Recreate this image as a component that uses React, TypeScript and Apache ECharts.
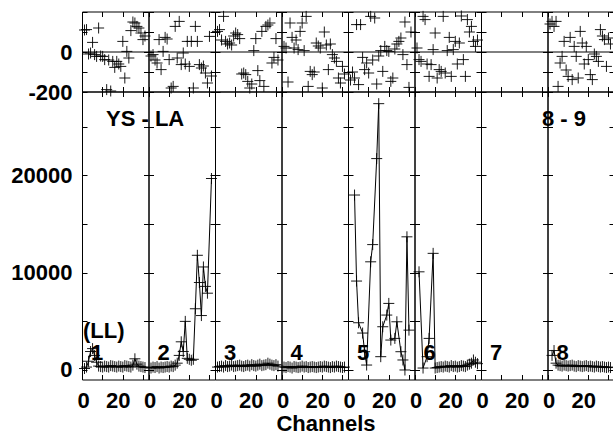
import React, { useEffect, useRef } from "react";
import * as echarts from "echarts";

// ---------- data ----------
const CHANNELS = [1, 2, 3, 4, 5, 6, 7, 8, 9, 10, 11, 12, 13, 14, 15, 16, 17, 18, 19, 20, 21, 22, 23, 24, 25, 26, 27, 28, 29, 30, 31];
const PANEL_NAMES = ["1", "2", "3", "4", "5", "6", "7", "8"];
const BASELINE_TOP = "YS - LA";
const BASELINE_RIGHT = "8 - 9";
const POL_LABEL = "(LL)";
const X_TITLE = "Channels";
const X_LABELS = [0, 20];
const PHASE_LABELS = [0, -200];
const AMP_TICKS = [0, 5000, 10000, 15000, 20000, 25000];
const AMP_LABELS = [0, 10000, 20000];

const phase1 = [110, 112, -10, -5, 48, -13, -22, 120, -20, -22, -38, -188, -40, -195, -47, -77, -47, -60, -72, 53, -130, 3, -30, 107, 150, 145, 128, 120, 95, 62, 80];
const phase2 = [-20, -13, -40, -55, 62, -88, 3, 73, 65, -38, -180, -172, 128, -30, 153, -63, -5, -60, 53, -72, 53, -180, 128, 53, -63, -80, -70, -105, -155, 78, -120];
const phase3 = [103, 112, 60, 178, 53, 40, 45, 35, 80, 95, 87, 67, -110, -105, -113, -147, -180, -160, 7, 67, -93, -143, 103, -172, 128, 135, 145, -55, -27, 67, -40];
const phase4 = [28, 20, -150, 145, 73, 20, 60, 12, 103, 145, 7, 178, -172, -97, -113, -100, 45, 30, 20, -180, 100, 35, -88, 40, -13, -30, -47, -130, -155, -72, -110];
const phase5 = [-140, -100, -130, 137, -163, 137, -27, -88, -55, -105, 178, -40, 170, -160, -20, 7, -97, 28, 7, 3, -147, -130, 15, 40, 53, 70, -13, 150, -63, -177, 100];
const phase6 = [20, -38, -47, 178, 162, -60, -122, -63, 12, 95, -130, -88, -97, 178, -105, 7, 73, -122, 12, 53, -60, 45, 180, -38, -122, 162, 100, 128, 53, 28, 60];
const phase7: (number | null)[] = [];
const phase8 = [140, 153, 128, 153, -172, -55, -22, 53, -90, -122, 73, -138, 28, -22, -130, 103, 45, -60, 28, -38, -113, -138, -10, -22, -47, 112, 80, 62, -72, 70, 40];

const amp1 = [150, 300, 900, 1900, 2200, 1500, 800, 400, 350, 300, 400, 350, 300, 450, 400, 350, 300, 400, 350, 300, 450, 400, 350, 300, 500, 1150, 600, 400, 350, 300, 250];
const amp2 = [200, 300, 250, 350, 200, 300, 250, 300, 350, 300, 400, 350, 500, 700, 1500, 2900, 1900, 5000, 1200, 1100, 1000, 1100, 6300, 11800, 9000, 5600, 10600, 8600, 7900, null, 19700];
const amp3 = [300, 350, 400, 300, 450, 350, 400, 500, 350, 400, 450, 500, 400, 350, 450, 500, 400, 550, 450, 400, 500, 600, 450, 500, 550, 700, 600, 500, 450, 550, 400];
const amp4 = [300, 250, 350, 300, 200, 350, 300, 250, 300, 400, 300, 350, 250, 300, 350, 300, 250, 300, 350, 300, 400, 350, 300, 250, 350, 300, 400, 350, 300, 250, 300];
const amp5 = [null, null, 18000, 9150, 4860, null, 3800, 1880, 510, null, 11130, 12900, null, 21750, 27400, 1370, 4450, null, 5650, 6850, 3080, null, 3250, 4960, null, 1880, 1030, 0, 13700, 4100, null];
const amp6 = [null, 10100, null, 200, null, 1370, 3250, null, 12000, 200, 250, 300, 350, 300, 400, 350, 300, 450, 350, 400, 300, 350, 450, 400, 350, 500, 600, 700, 1030, 800, 650];
const amp7: (number | null)[] = [];
const amp8 = [null, 1500, 2000, 700, 500, 450, 400, 500, 450, 400, 450, 500, 400, 350, 450, 400, 350, 400, 450, 350, 400, 350, 300, 400, 350, 300, 350, 300, 250, 300, 250];

const PHASES = [phase1, phase2, phase3, phase4, phase5, phase6, phase7, phase8];
const AMPS = [amp1, amp2, amp3, amp4, amp5, amp6, amp7, amp8];

// ---------- layout / style ----------
const X_MIN = 0;
const X_MAX = 33;
const PH_MIN = -200;
const PH_MAX = 200;
const AMP_MIN = -1030;
const AMP_MAX = 28600;
const PANEL_LEFT = 82.5;
const PANEL_W = 66.5;
const TOP_Y = 12;
const TOP_H = 80;
const BOT_Y = 92;
const BOT_H = 288;
const FONT = "Liberation Sans, Arial, Helvetica, sans-serif";
const FS = 22;
const LH = 17;
const CROSS = "path://M0,5L10,5M5,0L5,10";

function pairs(arr: (number | null)[]) {
  const out: number[][] = [];
  arr.forEach((v, i) => {
    if (v !== null && v !== undefined) out.push([CHANNELS[i], v]);
  });
  return out;
}

function buildOption() {
  const grid: any[] = [];
  const xAxis: any[] = [];
  const yAxis: any[] = [];
  const series: any[] = [];
  const tick = { show: true, inside: true, length: 5, lineStyle: { color: "#000", width: 1 } };
  const noLine = { show: false, onZero: false };
  const labelFont = { fontFamily: FONT, fontSize: FS, fontWeight: "bold", color: "#000", lineHeight: LH };

  for (let k = 0; k < 8; k++) {
    const left = PANEL_LEFT + k * PANEL_W;
    for (let part = 0; part < 2; part++) {
      const g = 2 * k + part;
      const isTop = part === 0;
      grid.push({
        left,
        top: isTop ? TOP_Y : BOT_Y,
        width: PANEL_W,
        height: isTop ? TOP_H : BOT_H,
        show: true,
        borderColor: "#000",
        borderWidth: 1,
        backgroundColor: "transparent",
        containLabel: false,
      });
      xAxis.push({
        gridIndex: g,
        type: "value",
        min: X_MIN,
        max: X_MAX,
        interval: 10,
        position: "bottom",
        axisLine: noLine,
        axisTick: tick,
        splitLine: { show: false },
        axisLabel: isTop
          ? { show: false }
          : {
              show: true,
              margin: 12,
              showMaxLabel: false,
              ...labelFont,
              formatter: (v: number) =>
                v === X_LABELS[0] ? "{a|" + v + "}" : v === X_LABELS[1] ? "{b|" + v + "}" : "",
              rich: {
                a: { ...labelFont, padding: [0, 0, 0, 2] },
                b: { ...labelFont, padding: [0, 9, 0, 0] },
              },
            },
      });
      xAxis.push({
        gridIndex: g,
        type: "value",
        min: X_MIN,
        max: X_MAX,
        interval: 10,
        position: "top",
        axisLine: noLine,
        axisTick: tick,
        splitLine: { show: false },
        axisLabel: { show: false },
      });
      const yBase: any = isTop
        ? { min: PH_MIN, max: PH_MAX, interval: 100 }
        : { min: AMP_MIN, max: AMP_MAX };
      const showLeftLabels = k === 0;
      yAxis.push({
        gridIndex: g,
        type: "value",
        ...yBase,
        position: "left",
        axisLine: noLine,
        axisTick: isTop ? tick : { ...tick, customValues: AMP_TICKS },
        splitLine: { show: false },
        axisLabel: showLeftLabels
          ? isTop
            ? {
                show: true,
                margin: 10,
                ...labelFont,
                formatter: (v: number) => (PHASE_LABELS.indexOf(v) >= 0 ? String(v) : ""),
              }
            : {
                show: true,
                margin: 10,
                ...labelFont,
                customValues: AMP_LABELS,
                formatter: (v: number) => String(v),
              }
          : { show: false },
      });
      yAxis.push({
        gridIndex: g,
        type: "value",
        ...yBase,
        position: "right",
        axisLine: noLine,
        axisTick: isTop ? tick : { ...tick, customValues: AMP_TICKS },
        splitLine: { show: false },
        axisLabel: { show: false },
      });

      if (isTop) {
        series.push({
          type: "line",
          xAxisIndex: 2 * g,
          yAxisIndex: 2 * g,
          data: [
            [X_MIN, 0],
            [X_MAX, 0],
          ],
          showSymbol: false,
          silent: true,
          lineStyle: { color: "#000", width: 1 },
          z: 1,
        });
        series.push({
          type: "scatter",
          xAxisIndex: 2 * g,
          yAxisIndex: 2 * g,
          data: pairs(PHASES[k]),
          symbol: CROSS,
          symbolSize: 11,
          itemStyle: { color: "#000", borderColor: "#000", borderWidth: 1, opacity: 0.9 },
          silent: true,
          z: 2,
        });
      } else {
        series.push({
          type: "line",
          xAxisIndex: 2 * g,
          yAxisIndex: 2 * g,
          data: pairs(AMPS[k]),
          showSymbol: true,
          showAllSymbol: true,
          symbol: CROSS,
          symbolSize: 11,
          itemStyle: { color: "#000", borderColor: "#000", borderWidth: 1, opacity: 0.9 },
          lineStyle: { color: "#000", width: 1 },
          silent: true,
          z: 2,
        });
      }
    }
  }

  const txt = (text: string, x: number, y: number, align = "left") => ({
    type: "text",
    x,
    y,
    silent: true,
    style: {
      text,
      fill: "#000",
      font: `bold ${FS}px ${FONT}`,
      lineHeight: LH,
      align,
      verticalAlign: "middle",
    },
    z: 10,
  });

  const graphic: any[] = [
    txt(BASELINE_TOP, 106, 118.5),
    txt(BASELINE_RIGHT, 542, 118.5),
    txt(POL_LABEL, 83, 330),
    txt(X_TITLE, 326, 423, "center"),
  ];
  PANEL_NAMES.forEach((n, k) => {
    graphic.push(txt(n, PANEL_LEFT + k * PANEL_W + 8.5, 352));
  });

  return {
    animation: false,
    backgroundColor: "#fff",
    grid,
    xAxis,
    yAxis,
    series,
    graphic,
  };
}

export default function App() {
  const ref = useRef<HTMLDivElement>(null);
  useEffect(() => {
    if (!ref.current) return;
    const chart = echarts.init(ref.current, undefined, { renderer: "svg" });
    chart.setOption(buildOption() as any);
    return () => chart.dispose();
  }, []);
  return (
    <div
      style={{
        position: "fixed",
        left: 0,
        top: 0,
        width: 613,
        height: 434,
        overflow: "hidden",
        background: "#fff",
      }}
    >
      <div ref={ref} style={{ width: 640, height: 434 }} />
    </div>
  );
}
